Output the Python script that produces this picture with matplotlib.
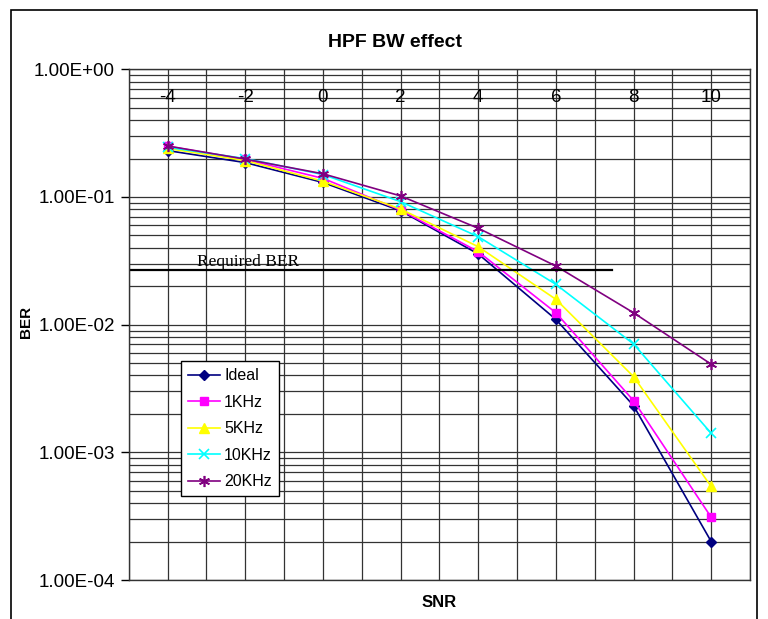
import matplotlib
matplotlib.use('Agg')
import matplotlib.pyplot as plt
from matplotlib.patches import Rectangle
from matplotlib.ticker import LogLocator, FuncFormatter, MultipleLocator, NullFormatter

# data
snr = [-4, -2, 0, 2, 4, 6, 8, 10]
ber_ideal = [0.231, 0.186, 0.130, 0.078, 0.0358, 0.0110, 0.00232, 0.00020]
ber_1khz = [0.250, 0.197, 0.140, 0.079, 0.0373, 0.0124, 0.00254, 0.00031]
ber_5khz = [0.240, 0.193, 0.133, 0.0805, 0.0408, 0.0158, 0.00392, 0.00054]
ber_10khz = [0.245, 0.200, 0.150, 0.092, 0.0489, 0.0207, 0.00706, 0.00141]
ber_20khz = [0.251, 0.198, 0.152, 0.102, 0.0569, 0.0288, 0.0124, 0.0049]

series_names = ['Ideal', '1KHz', '5KHz', '10KHz', '20KHz']
series_values = [ber_ideal, ber_1khz, ber_5khz, ber_10khz, ber_20khz]

required_ber = 0.027
required_span = [-5, 7.45]

plt.rcParams['font.family'] = ['Liberation Sans', 'DejaVu Sans']


def draw_series(ax):
    styles = [
        dict(color='#000080', marker='D', markersize=5),
        dict(color='#FF00FF', marker='s', markersize=6),
        dict(color='#FFFF00', marker='^', markersize=7),
        dict(color='#00FFFF', marker='x', markersize=7, markeredgewidth=1.2),
        dict(color='#800080', marker=(6, 2, 0), markersize=8, markeredgewidth=1.2),
    ]
    for name, values, st in zip(series_names, series_values, styles):
        ax.plot(snr, values, label=name, linewidth=1.2, **st)


def style_axes(ax):
    ax.set_yscale('log')
    ax.set_ylim(1e-4, 1)
    ax.set_xlim(-5, 11)

    ax.yaxis.set_major_locator(LogLocator(base=10))
    ax.yaxis.set_minor_locator(LogLocator(base=10, subs=range(2, 10)))
    ax.yaxis.set_major_formatter(FuncFormatter(lambda v, p: f'{v:.2E}'))
    ax.yaxis.set_minor_formatter(NullFormatter())
    ax.tick_params(axis='y', which='major', length=6, width=1, labelsize=13.5, pad=4)
    ax.tick_params(axis='y', which='minor', length=0)

    ax.xaxis.set_major_locator(MultipleLocator(1))
    ax.tick_params(axis='x', which='both', length=0, labelbottom=False)

    ax.grid(True, which='both', color='#333333', linewidth=0.9)
    ax.set_axisbelow(True)
    for sp in ax.spines.values():
        sp.set_color('#333333')
        sp.set_linewidth(1)

    # x tick labels sit inside the plot, near the top
    for x in snr:
        ax.text(x, 0.944, str(x), transform=ax.get_xaxis_transform(),
                ha='center', va='center', fontsize=13.5,
                family=['Liberation Sans Narrow', 'Liberation Sans'])


def main():
    fig = plt.figure(figsize=(7.68, 6.19), dpi=100)
    ax = fig.add_axes([0.1676, 0.063, 0.809, 0.825])

    style_axes(ax)
    draw_series(ax)

    ax.plot(required_span, [required_ber, required_ber], color='black', linewidth=1.6)
    ax.text(-3.24, 0.031, 'Required BER', family='Liberation Serif',
            fontsize=12.5, ha='left', va='center')

    leg = ax.legend(loc='upper left', bbox_to_anchor=(0.084, 0.429), borderaxespad=0,
                    fancybox=False, framealpha=1, edgecolor='black', fontsize=11.5,
                    handlelength=2.0, handletextpad=0.25, labelspacing=0.72,
                    borderpad=0.45)
    leg.get_frame().set_linewidth(1)

    ax.set_xlabel('SNR', fontsize=12, fontweight='bold')
    ax.xaxis.label.set_va('center')
    ax.xaxis.set_label_coords(0.5, -0.045)
    ax.set_ylabel('BER', fontsize=11, fontweight='bold')
    ax.yaxis.label.set_va('center')
    ax.yaxis.set_label_coords(-0.165, 0.505)

    fig.text(0.514, 0.932, 'HPF BW effect', fontsize=14, fontweight='bold',
             ha='center', va='center')

    # outer chart border, open at the bottom like the reference
    fig.patches.append(Rectangle((11 / 768, -0.05), 746 / 768, 0.05 + 1 - 10 / 619,
                                 transform=fig.transFigure, fill=False,
                                 edgecolor='black', linewidth=1.2))

    fig.savefig('out.png', dpi=100)


if __name__ == '__main__':
    main()
